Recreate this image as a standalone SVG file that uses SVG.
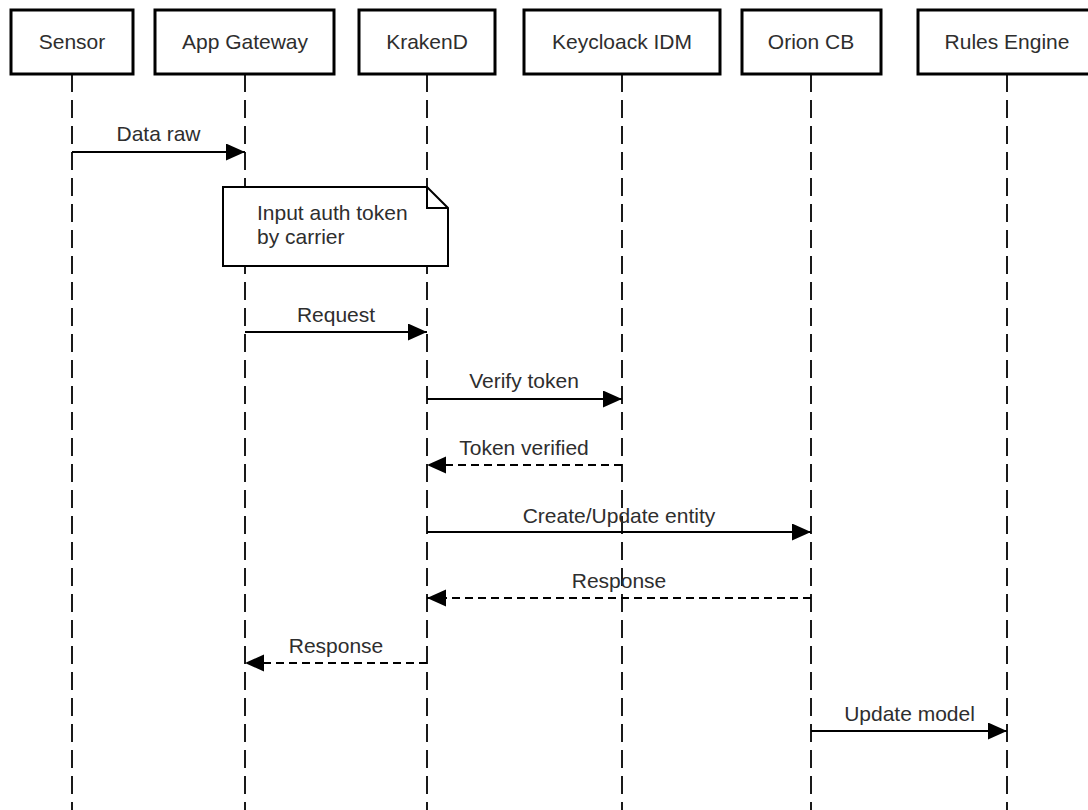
<svg xmlns="http://www.w3.org/2000/svg" width="1088" height="810" viewBox="0 0 1088 810">
  <style>
    text { font-family: "Liberation Sans", Arial, sans-serif; font-size: 21px; fill: #2e2e2e; }
    .box { fill: #ffffff; stroke: #000000; stroke-width: 3; }
    .life { stroke: #1a1a1a; stroke-width: 2; stroke-dasharray: 18 8; fill: none; }
    .msg { stroke: #000000; stroke-width: 2; fill: none; }
    .ret { stroke: #000000; stroke-width: 2; fill: none; stroke-dasharray: 8 5; }
    .note { fill: #ffffff; stroke: #000000; stroke-width: 2; }
  </style>
  <defs>
    <marker id="arrow" markerUnits="userSpaceOnUse" markerWidth="20" markerHeight="18" refX="19" refY="8.5" orient="auto">
      <path d="M0,0 L19,8.5 L0,17 z" fill="#000000"/>
    </marker>
  </defs>
  <rect width="1088" height="810" fill="#ffffff"/>

  <g id="lifelines">
    <line class="life" x1="72" y1="74" x2="72" y2="810"/>
    <line class="life" x1="245" y1="74" x2="245" y2="810"/>
    <line class="life" x1="427" y1="74" x2="427" y2="810"/>
    <line class="life" x1="622" y1="74" x2="622" y2="810"/>
    <line class="life" x1="811" y1="74" x2="811" y2="810"/>
    <line class="life" x1="1007" y1="74" x2="1007" y2="810"/>
  </g>

  <g id="connectors">
    <line class="msg" x1="72" y1="152" x2="245" y2="152" marker-end="url(#arrow)"/>
    <text x="158.5" y="141" text-anchor="middle">Data raw</text>

    <line class="msg" x1="245" y1="332" x2="427" y2="332" marker-end="url(#arrow)"/>
    <text x="336" y="322" text-anchor="middle">Request</text>

    <line class="msg" x1="427" y1="399" x2="622" y2="399" marker-end="url(#arrow)"/>
    <text x="524" y="388" text-anchor="middle">Verify token</text>

    <line class="ret" x1="622" y1="465" x2="427" y2="465" marker-end="url(#arrow)"/>
    <text x="524" y="455" text-anchor="middle">Token verified</text>

    <line class="msg" x1="427" y1="532" x2="811" y2="532" marker-end="url(#arrow)"/>
    <text x="619" y="523" text-anchor="middle">Create/Update entity</text>

    <line class="ret" x1="811" y1="598" x2="427" y2="598" marker-end="url(#arrow)"/>
    <text x="619" y="588" text-anchor="middle">Response</text>

    <line class="ret" x1="427" y1="663" x2="245" y2="663" marker-end="url(#arrow)"/>
    <text x="336" y="653" text-anchor="middle">Response</text>

    <line class="msg" x1="811" y1="731" x2="1007" y2="731" marker-end="url(#arrow)"/>
    <text x="909.5" y="721" text-anchor="middle">Update model</text>
  </g>

  <g id="note">
    <path class="note" d="M223,187 L427,187 L448,208 L448,266 L223,266 Z"/>
    <path d="M427,187 L427,208 L448,208" fill="none" stroke="#000000" stroke-width="2"/>
    <text x="257" y="220">Input auth token</text>
    <text x="257" y="244">by carrier</text>
  </g>

  <g id="sensor">
    <rect class="box" x="11" y="10" width="122" height="64"/>
    <text x="72" y="49" text-anchor="middle">Sensor</text>
  </g>
  <g id="app-gateway">
    <rect class="box" x="155" y="10" width="179" height="64"/>
    <text x="245" y="49" text-anchor="middle">App Gateway</text>
  </g>
  <g id="krakend">
    <rect class="box" x="359" y="10" width="136" height="64"/>
    <text x="427" y="49" text-anchor="middle">KrakenD</text>
  </g>
  <g id="keycloack-idm">
    <rect class="box" x="524" y="10" width="196" height="64"/>
    <text x="622" y="49" text-anchor="middle">Keycloack IDM</text>
  </g>
  <g id="orion-cb">
    <rect class="box" x="742" y="10" width="139" height="64"/>
    <text x="811" y="49" text-anchor="middle">Orion CB</text>
  </g>
  <g id="rules-engine">
    <rect class="box" x="918" y="10" width="180" height="64"/>
    <text x="1007" y="49" text-anchor="middle">Rules Engine</text>
  </g>
</svg>
